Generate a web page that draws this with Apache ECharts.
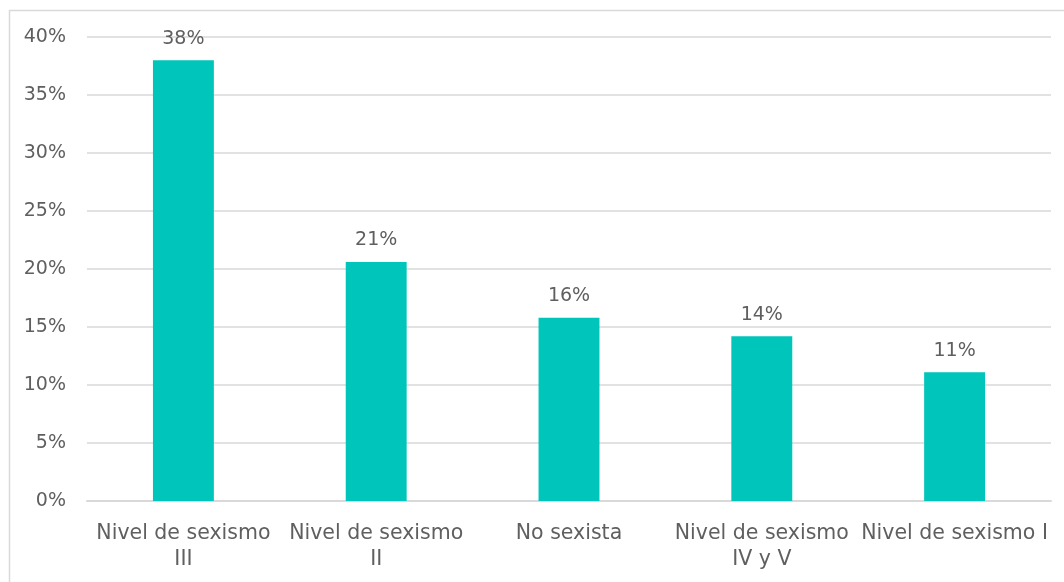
<!DOCTYPE html>
<html>
<head>
<meta charset="utf-8">
<script src="https://cdn.jsdelivr.net/npm/echarts@6/dist/echarts.min.js"></script>
<style>
  html, body { margin: 0; padding: 0; background: #ffffff; }
  #chart { width: 1064px; height: 582px; }
</style>
</head>
<body>
<div id="chart"></div>
<script>
// Distribución por nivel de sexismo (%)
const categories = [
  'Nivel de sexismo\nIII',
  'Nivel de sexismo\nII',
  'No sexista',
  'Nivel de sexismo\nIV y V',
  'Nivel de sexismo I'
];
const shares = [38.0, 20.6, 15.8, 14.2, 11.1];
const yTicks = { min: 0, max: 40, interval: 5 };

const textColor = '#5f5f5f';
const fontFamily = '"DejaVu Sans", Lato, sans-serif';

const chart = echarts.init(document.getElementById('chart'), null, { renderer: 'canvas' });

chart.setOption({
  animation: false,
  backgroundColor: '#ffffff',
  graphic: [{
    type: 'rect',
    left: 7, top: 8,
    shape: { width: 1070, height: 600 },
    style: { fill: 'none', stroke: '#d9d9d9', lineWidth: 1.5 },
    silent: true
  }],
  grid: { left: 87, right: 13, top: 37, bottom: 81, containLabel: false },
  xAxis: {
    type: 'category',
    data: categories,
    axisLine: { show: true, lineStyle: { color: '#d9d9d9', width: 2 } },
    axisTick: { show: false },
    axisLabel: {
      color: textColor,
      fontFamily: fontFamily,
      fontSize: 20.5,
      lineHeight: 26,
      margin: 20,
      interval: 0
    }
  },
  yAxis: {
    type: 'value',
    min: yTicks.min,
    max: yTicks.max,
    interval: yTicks.interval,
    axisLine: { show: false },
    axisTick: { show: false },
    splitLine: { lineStyle: { color: '#d9d9d9', width: 1.5 } },
    axisLabel: {
      color: textColor,
      fontFamily: fontFamily,
      fontSize: 19,
      margin: 21,
      formatter: '{value}%'
    }
  },
  series: [{
    type: 'bar',
    data: shares,
    barWidth: '31.6%',
    itemStyle: { color: '#00c5bb' },
    label: {
      show: true,
      position: 'top',
      distance: 12,
      color: textColor,
      fontFamily: fontFamily,
      fontSize: 19,
      formatter: p => Math.round(p.value) + '%'
    }
  }]
});
</script>
</body>
</html>
